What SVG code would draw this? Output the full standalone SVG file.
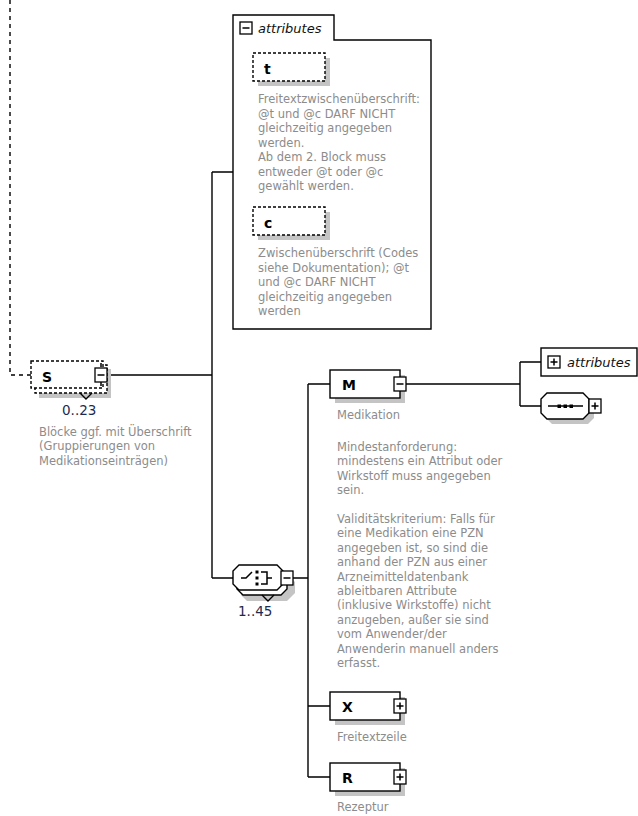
<svg xmlns="http://www.w3.org/2000/svg" width="638" height="816" viewBox="0 0 638 816">
<style>
.ln{fill:none;stroke:#000;stroke-width:1.4}
.dl{fill:none;stroke:#000;stroke-width:1.4;stroke-dasharray:4,4}
.box{fill:#fff;stroke:#000;stroke-width:1.4}
.dbox{fill:#fff;stroke:#000;stroke-width:1.4;stroke-dasharray:3,2}
.sh{fill:#c4c4c4}
.name{font-family:"DejaVu Sans",sans-serif;font-weight:bold;font-size:14px;fill:#000}
.attr{font-family:"DejaVu Sans",sans-serif;font-style:italic;font-size:13px;fill:#111}
.occ{font-family:"DejaVu Sans",sans-serif;font-size:13.5px;fill:#1c2a4e}
.desc{font-family:"DejaVu Sans",sans-serif;font-size:11.5px;fill:#8c8c8c}
.sym{fill:#fff;stroke:#000;stroke-width:1.3}
.symk{stroke:#000;stroke-width:1.5;fill:none}
</style>
<defs>
<g id="minus"><rect class="sym" x="0" y="0" width="12" height="14"/><path class="symk" d="M2.5 7H9.5"/></g>
<g id="plus"><rect class="sym" x="0" y="0" width="12" height="14"/><path class="symk" d="M2.5 7H9.5M6 3.5V10.5"/></g>
<g id="amin"><rect class="sym" x="0" y="0" width="12" height="12"/><path class="symk" d="M2.5 6H9.5"/></g>
<g id="aplus"><rect class="sym" x="0" y="0" width="12" height="12"/><path class="symk" d="M2.5 6H9.5M6 2.5V9.5"/></g>
</defs>

<g id="connectors">
<path class="dl" d="M10 0V375H31"/>
<path class="ln" d="M107 375H212M212 172V578M212 172H233M212 578H233"/>
<path class="ln" d="M293 578H308M308 384V777M308 384H330M308 706H330M308 777H330"/>
<path class="ln" d="M406 384H520M520 362V406M520 362H541M520 406H541"/>
</g>

<g id="node-S">
<rect class="sh" x="39" y="369" width="72" height="29"/>
<rect class="dbox" x="35" y="365" width="72" height="28"/>
<rect class="dbox" x="31" y="361" width="72" height="27"/>
<path class="ln" d="M80 393L86 399L92 393"/>
<text class="name" x="42" y="382">S</text>
<path class="symk" d="M101 363V367M101 382V386" stroke-width="1.2"/>
<use href="#minus" x="95" y="368"/>
<text class="occ" x="62" y="415">0..23</text>
<text class="desc" x="39" y="436">Blöcke ggf. mit Überschrift</text>
<text class="desc" x="39" y="450.4">(Gruppierungen von</text>
<text class="desc" x="39" y="464.8">Medikationseinträgen)</text>
</g>

<g id="node-attributes-S">
<path class="box" d="M233 15H334V40H431V329H233Z"/>
<use href="#amin" x="240" y="22"/>
<text class="attr" x="258" y="33">attributes</text>
</g>

<g id="node-t">
<rect class="sh" x="258" y="58" width="72" height="28"/>
<rect class="dbox" x="253" y="53" width="72" height="28"/>
<text class="name" x="264" y="74">t</text>
<text class="desc" x="258" y="103">Freitextzwischenüberschrift:</text>
<text class="desc" x="258" y="117.5">@t und @c DARF NICHT</text>
<text class="desc" x="258" y="132">gleichzeitig angegeben</text>
<text class="desc" x="258" y="146.5">werden.</text>
<text class="desc" x="258" y="161">Ab dem 2. Block muss</text>
<text class="desc" x="258" y="175.5">entweder @t oder @c</text>
<text class="desc" x="258" y="190">gewählt werden.</text>
</g>

<g id="node-c">
<rect class="sh" x="258" y="212" width="72" height="28"/>
<rect class="dbox" x="253" y="207" width="72" height="28"/>
<text class="name" x="264" y="228">c</text>
<text class="desc" x="258" y="257">Zwischenüberschrift (Codes</text>
<text class="desc" x="258" y="271.5">siehe Dokumentation); @t</text>
<text class="desc" x="258" y="286">und @c DARF NICHT</text>
<text class="desc" x="258" y="300.5">gleichzeitig angegeben</text>
<text class="desc" x="258" y="315">werden</text>
</g>

<g id="node-choice">
<path class="sh" d="M247 574H287L295 582V593L287 601H247L241 595V582Z"/>
<path class="box" d="M243 570H281L287 576V589L281 595H243L237 589V576Z"/>
<path class="box" d="M239 565H277L283 571V584L277 590H239L233 584V571Z"/>
<path class="ln" d="M262 595L268 601L274 595"/>
<path class="symk" d="M241 578H246L252 572"/>
<rect x="255.5" y="570.5" width="3" height="3" fill="#000"/>
<rect x="255.5" y="576.5" width="3" height="3" fill="#000"/>
<rect x="255.5" y="582.5" width="3" height="3" fill="#000"/>
<path class="symk" d="M261 572H267V584H261M267 578H272"/>
<use href="#minus" x="281" y="571"/>
<text class="occ" x="238" y="616">1..45</text>
</g>

<g id="node-M">
<rect class="sh" x="335" y="375" width="70" height="28"/>
<rect class="box" x="330" y="370" width="70" height="28"/>
<text class="name" x="342" y="390">M</text>
<use href="#minus" x="394" y="377"/>
<text class="desc" x="337" y="419">Medikation</text>
<text class="desc" x="337" y="451">Mindestanforderung:</text>
<text class="desc" x="337" y="465.4">mindestens ein Attribut oder</text>
<text class="desc" x="337" y="479.8">Wirkstoff muss angegeben</text>
<text class="desc" x="337" y="494.2">sein.</text>
<text class="desc" x="337" y="523">Validitätskriterium: Falls für</text>
<text class="desc" x="337" y="537.4">eine Medikation eine PZN</text>
<text class="desc" x="337" y="551.8">angegeben ist, so sind die</text>
<text class="desc" x="337" y="566.2">anhand der PZN aus einer</text>
<text class="desc" x="337" y="580.6">Arzneimitteldatenbank</text>
<text class="desc" x="337" y="595">ableitbaren Attribute</text>
<text class="desc" x="337" y="609.4">(inklusive Wirkstoffe) nicht</text>
<text class="desc" x="337" y="623.8">anzugeben, außer sie sind</text>
<text class="desc" x="337" y="638.2">vom Anwender/der</text>
<text class="desc" x="337" y="652.6">Anwenderin manuell anders</text>
<text class="desc" x="337" y="667">erfasst.</text>
</g>

<g id="node-attributes-M">
<rect class="box" x="541" y="348" width="96" height="28"/>
<use href="#aplus" x="548" y="356"/>
<text class="attr" x="567" y="367">attributes</text>
</g>

<g id="node-sequence">
<path class="sh" d="M552 398H588L594 404V418L588 424H552L546 418V404Z"/>
<path class="box" d="M547 393H583L589 399V413L583 419H547L541 413V399Z"/>
<path class="symk" d="M548 406H583"/>
<rect x="557.5" y="404.5" width="3.5" height="3.5" fill="#000"/>
<rect x="563.5" y="404.5" width="3.5" height="3.5" fill="#000"/>
<rect x="569.5" y="404.5" width="3.5" height="3.5" fill="#000"/>
<use href="#plus" x="589" y="399"/>
</g>

<g id="node-X">
<rect class="sh" x="335" y="697" width="70" height="28"/>
<rect class="box" x="330" y="692" width="70" height="28"/>
<text class="name" x="342" y="712">X</text>
<use href="#plus" x="394" y="699"/>
<text class="desc" x="337" y="741">Freitextzeile</text>
</g>

<g id="node-R">
<rect class="sh" x="335" y="768" width="70" height="28"/>
<rect class="box" x="330" y="763" width="70" height="28"/>
<text class="name" x="342" y="783">R</text>
<use href="#plus" x="394" y="770"/>
<text class="desc" x="337" y="811">Rezeptur</text>
</g>
</svg>
